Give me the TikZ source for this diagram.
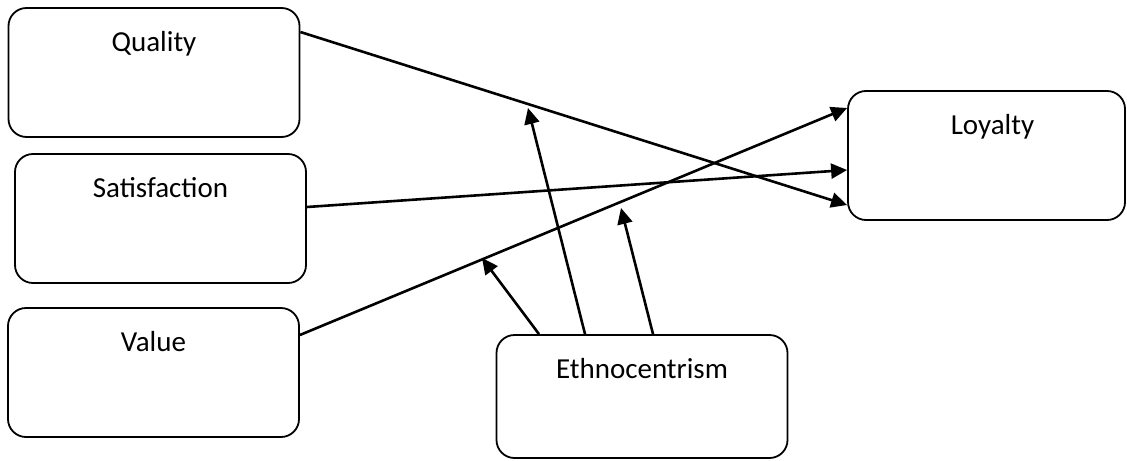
\documentclass[tikz,border=0pt]{standalone}
\usepackage{fontspec}
\setmainfont{Carlito}
\usepackage{tikz}
\usetikzlibrary{arrows.meta, positioning, calc}
\definecolor{mydark}{RGB}{0,0,0}
\tikzset{
  box/.style={draw=mydark, line width=0.9pt, rectangle, rounded corners=9pt, minimum width=145.5pt, minimum height=64.5pt},
  lbl/.style={font=\fontsize{14.5}{17}\selectfont, anchor=base, inner sep=0pt},
  arrow/.style={draw=mydark, line width=1.3pt, -{Triangle[length=8pt,width=7.5pt]}}
}
\begin{document}
\begin{tikzpicture}[x=0.5pt, y=-0.5pt]
  \useasboundingbox (0,0) rectangle (1127,460);

  \node [box] (q) at (154,72.5) {};
  \node [box] (s) at (160.5,218.5) {};
  \node [box] (v) at (153.5,372.5) {};
  \node [box, minimum width=138.5pt] (l) at (986.5,155.5) {};
  \node [box, minimum height=61.5pt] (e) at (642,396.5) {};

  \node [lbl] (qt) at ([yshift=-22pt]q.north) {Quality};
  \node [lbl] (st) at ([yshift=-22pt]s.north) {Satisfaction};
  \node [lbl] (vt) at ([yshift=-22pt]v.north) {Value};
  \node [lbl] (lt) at ([xshift=3pt, yshift=-22pt]l.north) {Loyalty};
  \node [lbl] (et) at ([yshift=-22pt]e.north) {Ethnocentrism};

  \draw [arrow] ([yshift=20.25pt]q.east) -- ([yshift=-24.75pt]l.west);
  \draw [arrow] ([yshift=5.75pt]s.east) -- ([yshift=-7.25pt]l.west);
  \draw [arrow] ([yshift=18.75pt]v.east) -- ([yshift=23.75pt]l.west);

  % moderating arrows
  \coordinate (m1) at (482,258);
  \coordinate (m2) at (528,108);
  \coordinate (m3) at (621,208);
  \draw [arrow] ([xshift=-51.5pt]e.north) -- (m1);
  \draw [arrow] ([xshift=-28.5pt]e.north) -- (m2);
  \draw [arrow] ([xshift=5.5pt]e.north) -- (m3);
\end{tikzpicture}
\end{document}
